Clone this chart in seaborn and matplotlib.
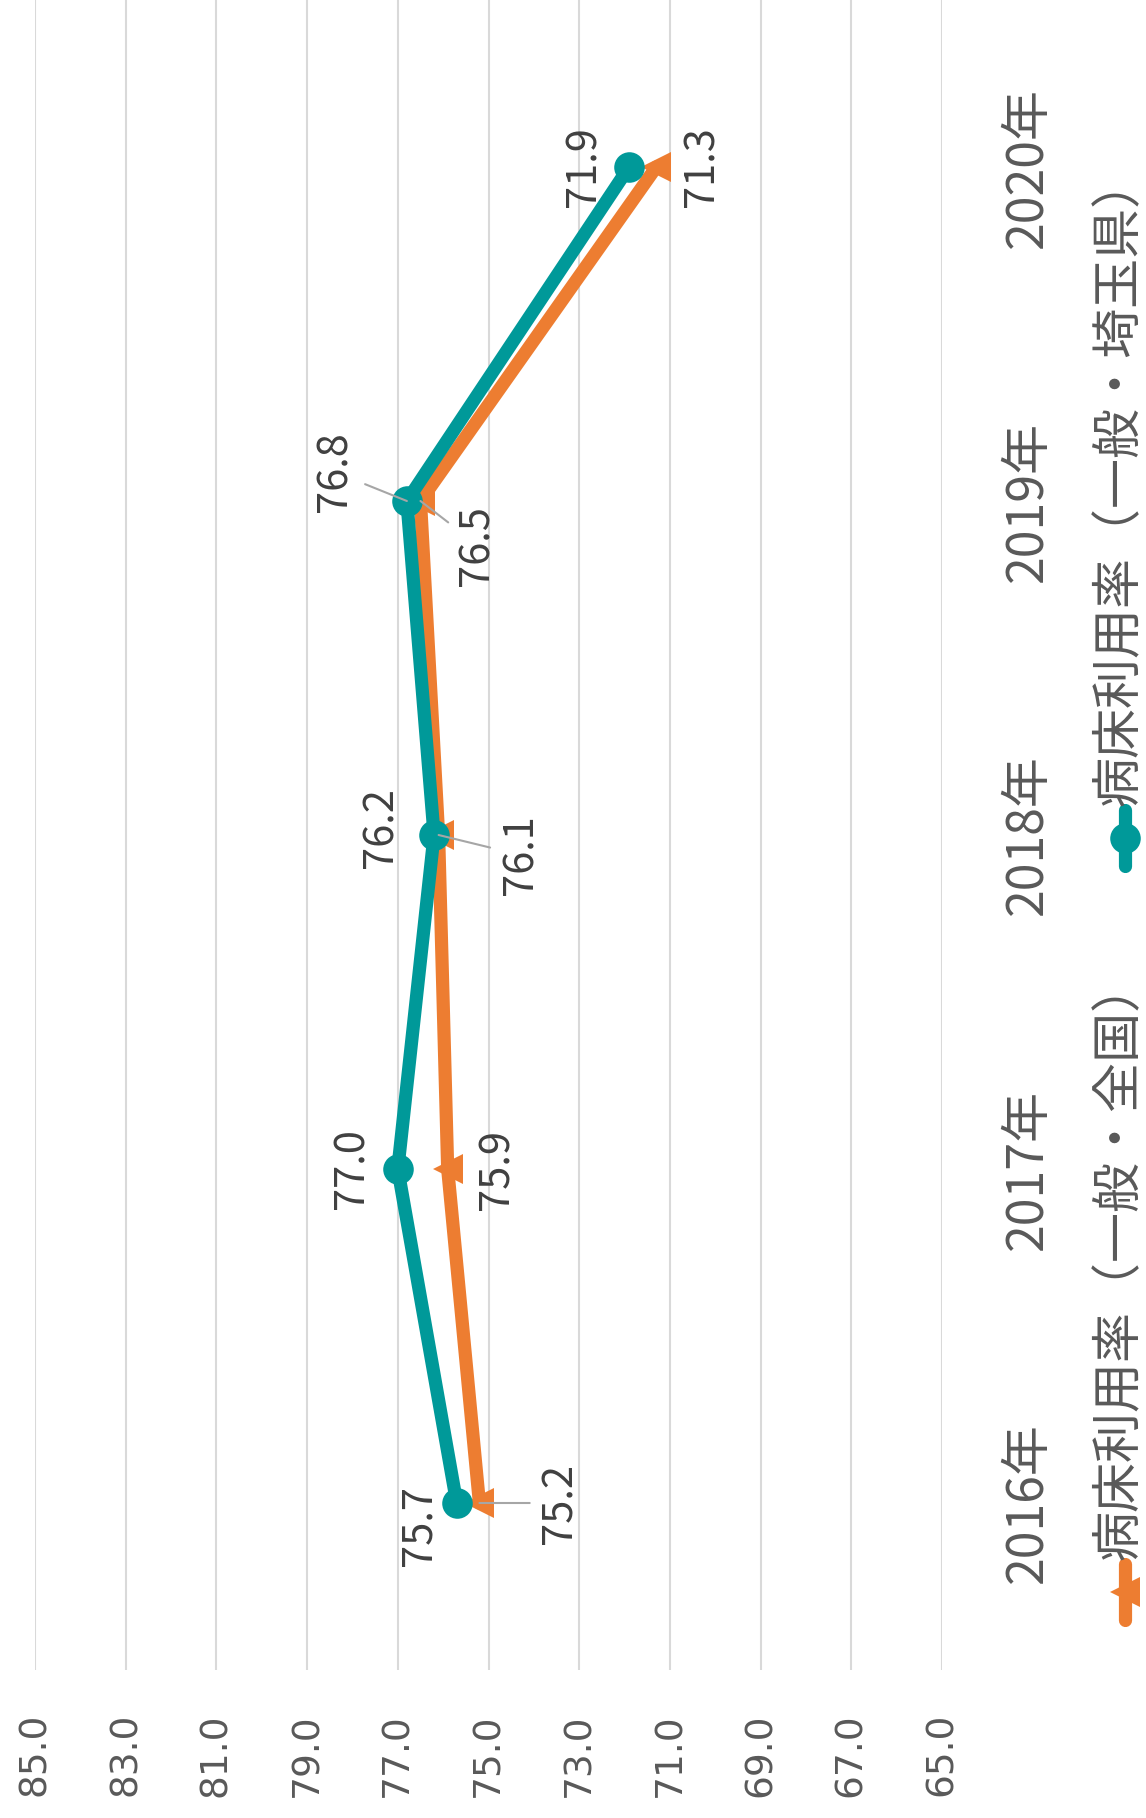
import numpy as np
import pandas as pd
import seaborn as sns
import matplotlib.pyplot as plt
from matplotlib.lines import Line2D

# data (chart is drawn turned 90 degrees: values run left->right, years bottom->top)
years = ['2016年', '2017年', '2018年', '2019年', '2020年']
national = [75.2, 75.9, 76.1, 76.5, 71.3]
saitama = [75.7, 77.0, 76.2, 76.8, 71.9]
value_ticks = [85.0, 83.0, 81.0, 79.0, 77.0, 75.0, 73.0, 71.0, 69.0, 67.0, 65.0]
legend_labels = ['病床利用率（一般・全国）', '病床利用率（一般・埼玉県）']

# label offsets in pixels (dx, dy) and whether a leader line is drawn
saitama_offsets = [(-38, -23), (-46, 0), (-53, 7), (-72, 29), (-45, 0)]
saitama_leader = [False, False, False, True, False]
national_offsets = [(81, 0), (49, 0), (82, -20), (57, -44), (46, 0)]
national_leader = [True, False, True, True, False]

ORANGE = '#ED7D31'
TEAL = '#009999'
GRID = '#d9d9d9'
TXT = '#595959'
LBL = '#404040'
JP = ['Noto Sans CJK JP', 'DejaVu Sans']

sns.set_style('white')
plt.rcParams['font.family'] = JP

W, H = 1146, 1818
fig = plt.figure(figsize=(W / 100, H / 100), dpi=100)


def fx(px):
    return px / W


def fy(py):
    return 1 - py / H


ax = fig.add_axes([fx(35), fy(1670), fx(942) - fx(35), 1670 / H])

df = pd.DataFrame({'pos': np.arange(len(years)), 'year': years,
                   'national': national, 'saitama': saitama})

line_kw = dict(linewidth=9.5, solid_joinstyle='round', solid_capstyle='round',
               markeredgewidth=0, clip_on=False, orient='y', sort=False, legend=False)
sns.lineplot(data=df, x='national', y='pos', color=ORANGE, marker='<',
             markersize=21, ax=ax, **line_kw)
sns.lineplot(data=df, x='saitama', y='pos', color=TEAL, marker='o',
             markersize=22, ax=ax, **line_kw)

ax.set_xlim(85, 65)
ax.set_ylim(-0.5, len(years) - 0.5)
ax.set_xticks(value_ticks)
ax.set_xticklabels([f'{v:.1f}' for v in value_ticks], rotation=90,
                   fontsize=27, color=TXT, family='DejaVu Sans')
ax.set_yticks(df['pos'])
ax.set_yticklabels(years, rotation=90, va='center', fontsize=36, color=TXT)
ax.yaxis.tick_right()
ax.tick_params(axis='x', length=0, pad=31)
ax.tick_params(axis='y', length=0, pad=43)
ax.set_xlabel('')
ax.set_ylabel('')
ax.grid(axis='x', color=GRID, linewidth=1.5)
ax.grid(axis='y', visible=False)
ax.set_axisbelow(True)
for s in ax.spines.values():
    s.set_visible(False)


def put_labels(vals, offsets, leaders):
    for i, v in enumerate(vals):
        dx, dy = offsets[i]
        arrow = None
        if leaders[i]:
            arrow = dict(arrowstyle='-', color='#a6a6a6', lw=1.5,
                         shrinkA=5, shrinkB=0)
        ax.annotate(f'{v:.1f}', xy=(v, i), xytext=(dx, dy), textcoords='offset pixels',
                    rotation=90, ha='center', va='center', fontsize=30, color=LBL,
                    arrowprops=arrow, annotation_clip=False)


put_labels(saitama, saitama_offsets, saitama_leader)
put_labels(national, national_offsets, national_leader)

# legend, turned with the chart
for label, color, marker, ms, y0 in [(legend_labels[0], ORANGE, '<', 21, 1592),
                                     (legend_labels[1], TEAL, 'o', 22, 838)]:
    fig.add_artist(Line2D([fx(1125), fx(1125)], [fy(y0 + 28), fy(y0 - 28)],
                          transform=fig.transFigure, color=color, linewidth=9.5,
                          solid_capstyle='round'))
    fig.add_artist(Line2D([fx(1125)], [fy(y0)], transform=fig.transFigure,
                          color=color, marker=marker, markersize=ms, markeredgewidth=0,
                          linestyle='none'))
    fig.text(fx(1120), fy(y0 - 32), label, rotation=90, ha='center', va='bottom',
             fontsize=36, color=TXT)

fig.savefig('out.png', dpi=100)
